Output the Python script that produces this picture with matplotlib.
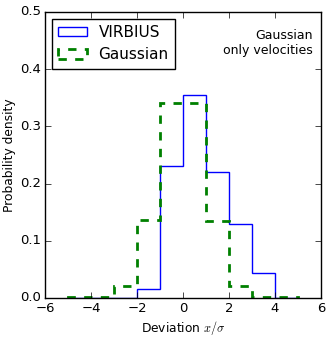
import matplotlib
matplotlib.use("Agg")
import matplotlib.pyplot as plt
matplotlib.style.use("classic")
matplotlib.rcParams.update({"font.size": 9.5})

edges = [-5, -4, -3, -2, -1, 0, 1, 2, 3, 4, 5]
virbius = [0.0, 0.0, 0.0, 0.016, 0.231, 0.355, 0.220, 0.129, 0.044, 0.0]
gaussian = [0.001, 0.002, 0.0215, 0.136, 0.340, 0.340, 0.134, 0.021, 0.002, 0.001]

fig = plt.figure(figsize=(3.32, 3.39), dpi=100)
ax = fig.add_axes([0.136, 0.121, 0.831, 0.844])

ax.hist(edges[:-1], bins=edges, weights=virbius, histtype="step",
        color="b", linewidth=1, label="VIRBIUS")
ax.hist(edges[:-1], bins=edges, weights=gaussian, histtype="step",
        color="g", linestyle="--", linewidth=2, label="Gaussian")

ax.set_xlim(-6, 6)
ax.set_ylim(0, 0.5)
ax.set_xticks([-6, -4, -2, 0, 2, 4, 6])
ax.set_yticks([0.0, 0.1, 0.2, 0.3, 0.4, 0.5])
ax.tick_params(labelsize=9.5, pad=3)
ax.set_xlabel(r"Deviation $x/\sigma$", labelpad=3, fontsize=8.8)
ax.set_ylabel("Probability density", fontsize=8.8)
ax.yaxis.set_label_coords(-0.105, 0.5)

ax.text(0.97, 0.94, "Gaussian\nonly velocities", transform=ax.transAxes,
        ha="right", va="top", fontsize=9)

leg = ax.legend(loc="upper left", fontsize=11, handlelength=1.9,
                handleheight=0.55, handletextpad=0.75, borderaxespad=0.45)

fig.savefig("out.png", dpi=100)
